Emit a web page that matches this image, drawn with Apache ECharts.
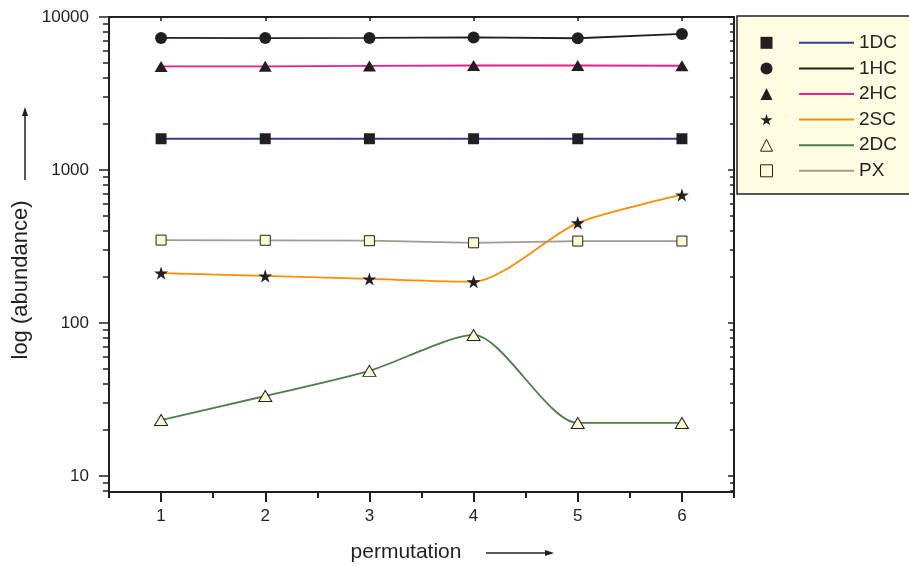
<!DOCTYPE html>
<html>
<head>
<meta charset="utf-8">
<script src="https://cdn.jsdelivr.net/npm/echarts@6/dist/echarts.min.js"></script>
<style>
  html, body { margin: 0; padding: 0; background: #fff; }
  #chart { width: 909px; height: 566px; }
</style>
</head>
<body>
<div id="chart"></div>
<script>
// permutations on the x axis
var permutations = [1, 2, 3, 4, 5, 6];
var seriesNames = ['1DC', '1HC', '2HC', '2SC', '2DC', 'PX'];

// abundance values
var v1DC = [1600, 1600, 1600, 1600, 1600, 1600];
var v1HC = [7300, 7280, 7300, 7350, 7260, 7750];
var v2HC = [4750, 4760, 4790, 4820, 4820, 4800];
var v2SC = [212, 203, 194, 186, 451, 687];
var v2DC = [23.2, 33.3, 48.6, 83.5, 22.2, 22.2];
var vPX = [348, 347, 345, 334, 343, 343];

var yTickLabels = [10, 100, 1000, 10000];
var yMin = 7.85, yMax = 10000;

var ink = '#231f20';
var openFill = '#fdfbd2';
var lineColors = ['#3a3a96', '#231f20', '#ec1c8c', '#ff8c00', '#4e7d4c', '#a39b8d'];
var star = 'path://M50,0 L61,35 L98,35 L68,57 L79,91 L50,70 L21,91 L32,57 L2,35 L39,35 Z';
var symbols = ['rect', 'circle', 'triangle', star, 'triangle', 'rect'];
var sizes = [11, 12, [13, 11], 14, [13, 11], 10];
var open = [false, false, false, false, true, true];
var smooth = [false, false, false, 0.25, 0.25, false];
var values = [v1DC, v1HC, v2HC, v2SC, v2DC, vPX];

// tick positions in log space for the overlay tick axes
var majorLog = yTickLabels.map(function (v) { return Math.log10(v); });
var minorLog = [];
[1, 10, 100, 1000].forEach(function (d) {
  for (var k = 2; k <= 9; k++) minorLog.push(Math.log10(k * d));
});
minorLog.push(Math.log10(8), Math.log10(9));
var logMin = Math.log10(yMin), logMax = Math.log10(yMax);
var halfTicks = permutations.map(function (p) { return p - 0.5; }).concat([6.5]);

var myChart = echarts.init(document.getElementById('chart'));

function tickAxis(position, ticks, len, inside, label) {
  return {
    type: 'value', min: logMin, max: logMax, position: position,
    axisLine: { show: false },
    axisTick: { show: true, inside: inside, length: len, customValues: ticks,
      lineStyle: { color: ink, width: 1.5 } },
    axisLabel: label ? {
      show: true, customValues: ticks, margin: 20, fontSize: 17, color: ink,
      fontFamily: 'Liberation Sans',
      formatter: function (v) { return String(Math.round(Math.pow(10, v))); }
    } : { show: false },
    splitLine: { show: false }
  };
}

var series = seriesNames.map(function (name, i) {
  return {
    name: name,
    type: 'line',
    xAxisIndex: 0,
    yAxisIndex: 0,
    data: permutations.map(function (p, j) { return [p, values[i][j]]; }),
    symbol: symbols[i],
    symbolSize: sizes[i],
    symbolKeepAspect: true,
    smooth: smooth[i],
    showAllSymbol: true,
    lineStyle: { color: lineColors[i], width: 1.8 },
    itemStyle: open[i]
      ? { color: openFill, borderColor: ink, borderWidth: 1 }
      : { color: ink, borderWidth: 0 },
    emphasis: { disabled: true },
    z: 3
  };
});

var option = {
  animation: false,
  grid: { left: 109, top: 17, right: 175, bottom: 74 },
  xAxis: [
    {
      type: 'value', min: 0.5, max: 6.5, position: 'bottom',
      axisLine: { onZero: false, lineStyle: { color: ink, width: 2 } },
      axisTick: { length: 10, customValues: permutations, lineStyle: { color: ink, width: 2 } },
      axisLabel: { customValues: permutations, margin: 16, fontSize: 17, color: ink,
        fontFamily: 'Liberation Sans' },
      splitLine: { show: false }
    },
    {
      type: 'value', min: 0.5, max: 6.5, position: 'bottom',
      axisLine: { show: false },
      axisTick: { length: 6, customValues: halfTicks, lineStyle: { color: ink, width: 2 } },
      axisLabel: { show: false },
      splitLine: { show: false }
    },
    {
      type: 'value', min: 0.5, max: 6.5, position: 'top',
      axisLine: { onZero: false, lineStyle: { color: ink, width: 2 } },
      axisTick: { inside: true, length: 4, customValues: permutations, lineStyle: { color: ink, width: 1.5 } },
      axisLabel: { show: false },
      splitLine: { show: false }
    }
  ],
  yAxis: [
    {
      type: 'log', min: yMin, max: yMax, position: 'left',
      axisLine: { show: true, onZero: false, lineStyle: { color: ink, width: 2 } },
      axisTick: { show: false },
      axisLabel: { show: false },
      splitLine: { show: false }
    },
    tickAxis('left', majorLog, 10, false, true),
    tickAxis('left', minorLog, 6, false, false),
    Object.assign(tickAxis('right', majorLog, 6, true, false),
      { axisLine: { show: true, onZero: false, lineStyle: { color: ink, width: 2 } } }),
    tickAxis('right', minorLog, 4, true, false)
  ],
  legend: [
    {
      orient: 'vertical', left: 760, top: 30, padding: 0, itemGap: 0,
      itemWidth: 12, itemHeight: 12, selectedMode: false, z: 5,
      textStyle: { color: 'rgba(0,0,0,0)', fontSize: 19, lineHeight: 25.6 },
      data: seriesNames.map(function (n, i) {
        return {
          name: n, icon: symbols[i],
          itemStyle: open[i]
            ? { color: openFill, borderColor: ink, borderWidth: 1 }
            : { color: ink, borderWidth: 0 }
        };
      })
    },
    {
      orient: 'vertical', left: 799, top: 30, padding: 0, itemGap: 0,
      itemWidth: 55, itemHeight: 2, selectedMode: false, z: 5,
      textStyle: { color: ink, fontSize: 19, lineHeight: 25.6, fontFamily: 'Liberation Sans' },
      data: seriesNames.map(function (n, i) {
        return { name: n, icon: 'rect', itemStyle: { color: lineColors[i], borderWidth: 0 } };
      })
    }
  ],
  graphic: [
    { type: 'rect', z: 1, shape: { x: 737, y: 16, width: 190, height: 178 },
      style: { fill: '#fffde1', stroke: ink, lineWidth: 1.5 } },
    { type: 'text', x: 21, y: 280, rotation: Math.PI / 2,
      style: { text: 'log (abundance)', fontSize: 22, fill: ink, fontFamily: 'Liberation Sans',
        align: 'center', verticalAlign: 'middle' } },
    { type: 'line', shape: { x1: 25, y1: 180, x2: 25, y2: 114 }, style: { stroke: ink, lineWidth: 1.5 } },
    { type: 'polygon', shape: { points: [[25, 107], [22, 116], [28, 116]] }, style: { fill: ink } },
    { type: 'text', x: 406, y: 552,
      style: { text: 'permutation', fontSize: 21, fill: ink, fontFamily: 'Liberation Sans',
        align: 'center', verticalAlign: 'middle' } },
    { type: 'line', shape: { x1: 486, y1: 553, x2: 546, y2: 553 }, style: { stroke: ink, lineWidth: 1.5 } },
    { type: 'polygon', shape: { points: [[554, 553], [545, 550], [545, 556]] }, style: { fill: ink } }
  ],
  series: series
};

myChart.setOption(option);
</script>
</body>
</html>
